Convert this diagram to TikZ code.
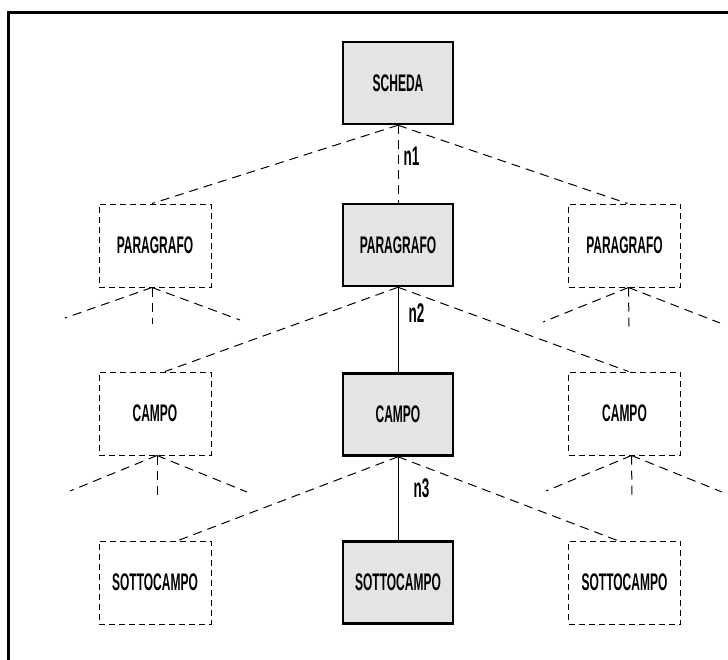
\documentclass[tikz,border=0pt]{standalone}
\usepackage{fontspec}
\setmainfont{Liberation Sans}
\newfontfamily\condfont[FakeStretch=0.5]{Liberation Sans Bold}
\usetikzlibrary{calc}
\definecolor{boxgray}{HTML}{E4E4E4}
\tikzset{
  main/.style={draw, line width=2.5pt, fill=boxgray, minimum width=110pt, minimum height=82pt, inner sep=0pt, font=\condfont\fontsize{24}{27}\selectfont},
  alt/.style={draw, dash pattern=on 6pt off 4pt, line width=1pt, minimum width=112pt, minimum height=83pt, inner sep=0pt, font=\condfont\fontsize{24}{27}\selectfont},
  dline/.style={dash pattern=on 9pt off 6pt, line width=1pt},
  sline/.style={line width=1pt},
  lbl/.style={font=\condfont\fontsize{27}{30}\selectfont, inner sep=0pt},
}
\begin{document}
\begin{tikzpicture}[x=1pt,y=-1pt]
\useasboundingbox (0,0) rectangle (728,659);
\draw[line width=3pt] (8,661) -- (8,12) -- (730,12);
% level 0
\node[main] (sch) at (398,83) {SCHEDA};
% level 1
\node[alt] (p0) at (155,245.5) {PARAGRAFO};
\node[main] (p1) at (398,245) {PARAGRAFO};
\node[alt] (p2) at (624.5,245.5) {PARAGRAFO};
% level 2
\node[alt] (c0) at (155,413.5) {CAMPO};
\node[main] (c1) at (398,414.5) {CAMPO};
\node[alt] (c2) at (624.5,413.5) {CAMPO};
% level 3
\node[alt] (s0) at (155,582.5) {SOTTOCAMPO};
\node[main] (s1) at (398,582.5) {SOTTOCAMPO};
\node[alt] (s2) at (624.5,582.5) {SOTTOCAMPO};
% stubs
\coordinate (a0l) at (65,318);
\coordinate (a0m) at (152,324);
\coordinate (a0r) at (240,320);
\coordinate (a2l) at (543,322);
\coordinate (a2m) at (629,327);
\coordinate (a2r) at (720,323);
\coordinate (b0l) at (70,491);
\coordinate (b0m) at (157,497);
\coordinate (b0r) at (247,492);
\coordinate (b2l) at (546,491);
\coordinate (b2m) at (632,497);
\coordinate (b2r) at (722,492);
% connectors
\draw[dline] (sch.south) -- (p1.north) node[lbl, pos=0.4, right=5pt] (n1) {n1};
\draw[dline] (sch.south) -- ($(p0.north)+(-3,0)$);
\draw[dline] (sch.south) -- ($(p2.north)+(3,0)$);
\draw[sline] (p1.south) -- (c1.north) node[lbl, pos=0.3, right=10pt] (n2) {n2};
\draw[dline] (p1.south) -- ($(c0.north)+(10,0)$);
\draw[dline] (p1.south) -- ($(c2.north)+(4,0)$);
\draw[sline] (c1.south) -- (s1.north) node[lbl, pos=0.38, right=15pt] (n3) {n3};
\draw[dline] (c1.south) -- ($(s0.north)+(23,0)$);
\draw[dline] (c1.south) -- ($(s2.north)+(-7,0)$);
% side stubs
\draw[dline] ($(p0.south)+(-3,0)$) -- (a0l);
\draw[dline] ($(p0.south)+(-3,0)$) -- (a0m);
\draw[dline] ($(p0.south)+(-3,0)$) -- (a0r);
\draw[dline] ($(p2.south)+(4,0)$) -- (a2l);
\draw[dline] ($(p2.south)+(4,0)$) -- (a2m);
\draw[dline] ($(p2.south)+(4,0)$) -- (a2r);
\draw[dline] ($(c0.south)+(2,0)$) -- (b0l);
\draw[dline] ($(c0.south)+(2,0)$) -- (b0m);
\draw[dline] ($(c0.south)+(2,0)$) -- (b0r);
\draw[dline] ($(c2.south)+(7,0)$) -- (b2l);
\draw[dline] ($(c2.south)+(7,0)$) -- (b2m);
\draw[dline] ($(c2.south)+(7,0)$) -- (b2r);
\end{tikzpicture}
\end{document}
